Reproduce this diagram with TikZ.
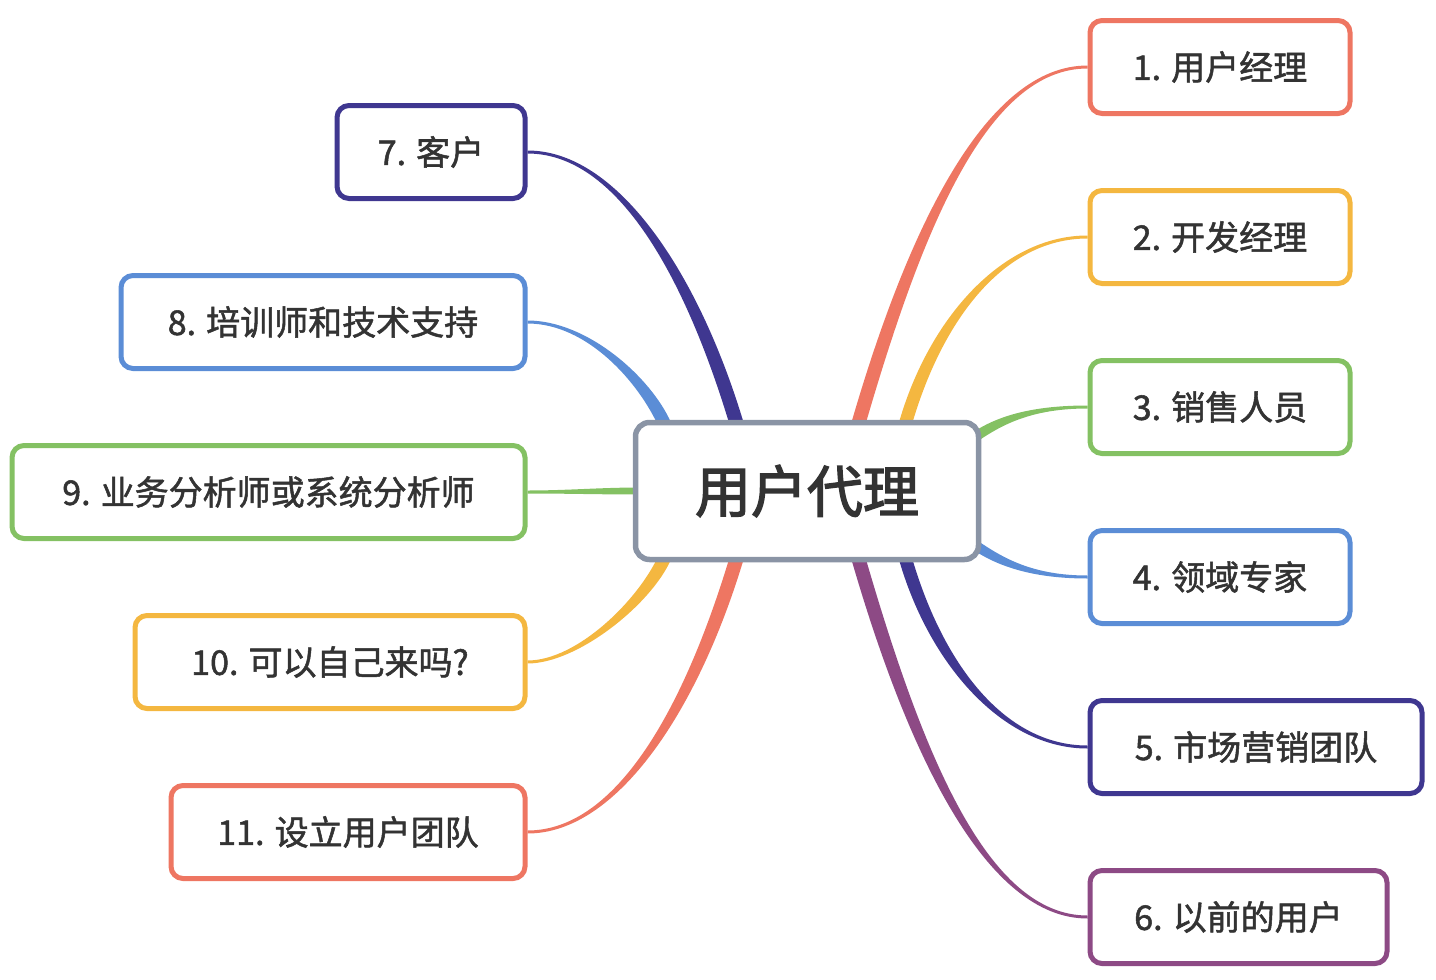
\documentclass[tikz,border=0pt]{standalone}
\usepackage{fontspec}
\setmainfont{Noto Sans CJK SC}
\newfontfamily\leaffont{Noto Sans CJK SC}[FakeBold=1.5]
\newfontfamily\rootfont{Noto Sans CJK SC}[FakeBold=2.5]
\usetikzlibrary{calc}
\pgfdeclarelayer{background}
\pgfsetlayers{background,main}

\definecolor{coral}{HTML}{EE7662}
\definecolor{amber}{HTML}{F4B740}
\definecolor{leafgreen}{HTML}{84C163}
\definecolor{skyblue}{HTML}{5B8DD6}
\definecolor{indigo}{HTML}{3F3790}
\definecolor{plum}{HTML}{8D4A85}
\definecolor{rootgray}{HTML}{8A94A5}
\definecolor{ink}{HTML}{333333}

% tapered branch: colour, leaf anchor, start (from root centre),
% first control (from start), second control (from leaf), half width
\newcommand\branch[6]{%
  \coordinate (bs) at ($(root.center)+#3$);
  \coordinate (bc) at ($(bs)+#4$);
  \coordinate (be) at (#2);
  \coordinate (bd) at ($(be)+#5$);
  \coordinate (bsl) at ($(bs)!#6!90:(bc)$);
  \coordinate (bsr) at ($(bs)!#6!-90:(bc)$);
  \coordinate (bel) at ($(be)!1.5pt!-90:(bd)$);
  \coordinate (ber) at ($(be)!1.5pt!90:(bd)$);
  \fill[#1] (bsl) .. controls ($(bc)+(bsl)-(bs)$) and ($(bd)+(bel)-(be)$) .. (bel)
    -- (ber) .. controls ($(bd)+(ber)-(be)$) and ($(bc)+(bsr)-(bs)$) .. (bsr) -- cycle;
}

\begin{document}
\begin{tikzpicture}[x=1pt, y=-1pt,
  root/.style={draw=rootgray, fill=white, line width=5.5pt, rounded corners=14pt,
    minimum width=343pt, minimum height=137pt, inner sep=0pt, text=ink,
    font=\rootfont\fontsize{56}{64}\selectfont},
  leaf/.style={draw=#1, fill=white, line width=5pt, rounded corners=12pt,
    minimum height=93pt, inner sep=0pt, text=ink,
    font=\leaffont\fontsize{34}{40}\selectfont}]
\useasboundingbox (0,0) rectangle (1436,980);

\node[root] (root) at (807,491) {用户代理};

% right side
\node[leaf=coral, minimum width=260pt, anchor=west] (um) at (1087.5,67) {1. 用户经理};
\node[leaf=amber, minimum width=260pt, anchor=west] (dm) at (1087.5,237) {2. 开发经理};
\node[leaf=leafgreen, minimum width=260pt, anchor=west] (sales) at (1087.5,407) {3. 销售人员};
\node[leaf=skyblue, minimum width=260pt, anchor=west] (expert) at (1087.5,577) {4. 领域专家};
\node[leaf=indigo, minimum width=332pt, anchor=west] (market) at (1087.5,747) {5. 市场营销团队};
\node[leaf=plum, minimum width=297pt, anchor=west] (former) at (1087.5,917) {6. 以前的用户};

% left side
\node[leaf=indigo, minimum width=188pt, anchor=east] (client) at (527.5,152) {7. 客户};
\node[leaf=skyblue, minimum width=404pt, anchor=east] (trainer) at (527.5,322) {8. 培训师和技术支持};
\node[leaf=leafgreen, minimum width=513pt, anchor=east] (analyst) at (527.5,492) {9. 业务分析师或系统分析师};
\node[leaf=amber, minimum width=390pt, anchor=east] (self) at (527.5,662) {10. 可以自己来吗?};
\node[leaf=coral, minimum width=354pt, anchor=east] (team) at (527.5,832) {11. 设立用户团队};

\begin{pgfonlayer}{background}
\branch{coral}{um.west}{(51,-66)}{(58,-200)}{(-100,0)}{7pt}
\branch{amber}{dm.west}{(98,-66)}{(30,-105)}{(-85,0)}{6.5pt}
\branch{leafgreen}{sales.west}{(168,-54)}{(25,-17)}{(-55,0)}{5pt}
\branch{skyblue}{expert.west}{(168,54)}{(25,17)}{(-55,0)}{5pt}
\branch{indigo}{market.west}{(98,66)}{(30,105)}{(-85,0)}{6.5pt}
\branch{plum}{former.west}{(51,66)}{(58,200)}{(-100,0)}{7pt}
\branch{indigo}{client.east}{(-70,-66)}{(-45,-150)}{(90,0)}{7pt}
\branch{skyblue}{trainer.east}{(-142,-66)}{(-20,-45)}{(60,0)}{6.5pt}
\branch{leafgreen}{analyst.east}{(-167,0)}{(-40,0)}{(40,0)}{3.5pt}
\branch{amber}{self.east}{(-142,66)}{(-20,45)}{(50,0)}{6.5pt}
\branch{coral}{team.east}{(-70,66)}{(-45,150)}{(90,0)}{7pt}
\end{pgfonlayer}
\end{tikzpicture}
\end{document}
